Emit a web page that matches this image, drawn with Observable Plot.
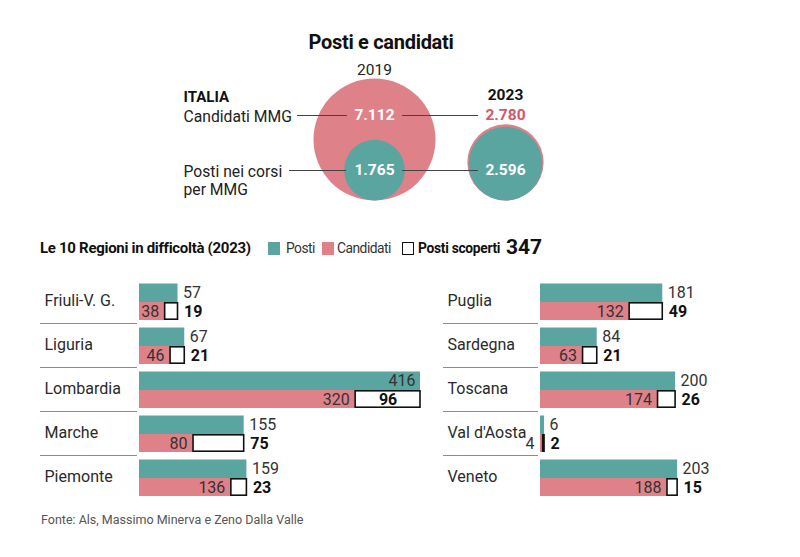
<!DOCTYPE html>
<html><head><meta charset="utf-8">
<script src="https://cdn.jsdelivr.net/npm/d3@7"></script>
<script src="https://cdn.jsdelivr.net/npm/@observablehq/plot@0.6"></script>
<style>
html,body{margin:0;padding:0;background:#fff;}
#root{position:relative;width:800px;height:557px;overflow:hidden;background:#fff;font-family:Roboto,"Noto Sans",sans-serif;color:#222}
.abs{position:absolute}
#title{left:0;width:762px;top:29px;text-align:center;font-size:20px;font-weight:700;color:#111;line-height:26px;letter-spacing:-0.3px}
#legend{left:40px;top:237px;width:600px;height:22px;white-space:nowrap;font-size:13.8px;color:#333}
#legend span{position:absolute;top:0;line-height:22px}
#legend .lab{letter-spacing:-0.5px}
#legend .lt{font-weight:700;color:#111;font-size:15px;letter-spacing:-0.3px}
#legend .sw{display:inline-block;width:12px;height:13px;top:5px}
#legend .b{font-weight:700;color:#111;letter-spacing:-0.3px}
#legend .big{font-weight:700;color:#111;font-size:21px;top:-1px}
#caption{left:41px;top:512px;font-size:12.5px;color:#555;line-height:16px}
svg{position:absolute}
</style></head>
<body><div id="root">
<div id="title" class="abs"></div>
<div id="topArea" class="abs" style="left:0;top:0;width:800px;height:215px"></div>
<div id="legend" class="abs"></div>
<div id="panels" class="abs" style="left:0;top:275px;width:800px;height:230px"></div>
<div id="caption" class="abs"></div>
</div>
<script>
// ---- data ----
const titolo = "Posti e candidati";
const years = [2019, 2023];
const candidatiItalia = [7112, 2780];
const postiItalia = [1765, 2596];
const misure = ["Candidati", "Posti"];
const misureLabel = ["Candidati MMG", "Posti nei corsi\nper MMG"];
const areaLabel = "ITALIA";

const legendTitle = "Le 10 Regioni in difficoltà (2023)";
const legendLabels = ["Posti", "Candidati", "Posti scoperti"];
const totaleScoperti = 347;

const regioniSx = ["Friuli-V. G.", "Liguria", "Lombardia", "Marche", "Piemonte"];
const postiSx = [57, 67, 416, 155, 159];
const candidatiSx = [38, 46, 320, 80, 136];
const scopertiSx = [19, 21, 96, 75, 23];

const regioniDx = ["Puglia", "Sardegna", "Toscana", "Val d'Aosta", "Veneto"];
const postiDx = [181, 84, 200, 6, 203];
const candidatiDx = [132, 63, 174, 4, 188];
const scopertiDx = [49, 21, 26, 2, 15];

const fonte = "Fonte: Als, Massimo Minerva e Zeno Dalla Valle";

// ---- style ----
const TEAL = "#5ba5a1", PINK = "#df8189", PINK_TXT = "#d4566a", INK = "#222", GRID = "#8c8c8c";
const FONT = "Roboto, 'Noto Sans', sans-serif";
const itFmt = d3.formatLocale({decimal: ",", thousands: ".", grouping: [3], currency: ["", "€"]}).format(",d");

document.getElementById("title").textContent = titolo;
document.getElementById("caption").textContent = fonte;

// ---- top: bubbles ----
const circles = years.flatMap((y, i) => [
  {year: y, misura: "Candidati", value: candidatiItalia[i]},
  {year: y, misura: "Posti", value: postiItalia[i]}
]);
const maxV = d3.max(circles, d => d.value);
const xTop = {type: "linear", domain: [years[0], years[1]], range: [374, 505], axis: null};

const bubbles = Plot.plot({
  width: 800, height: 215, margin: 0,
  style: {background: "transparent", fontFamily: FONT, overflow: "visible"},
  x: xTop,
  y: {type: "sqrt", domain: [0, maxV], range: [200, 139], axis: null},
  r: {type: "sqrt", domain: [0, maxV], range: [0, 61]},
  marks: [
    Plot.dot(circles.filter(d => d.misura === "Candidati"), {x: "year", y: "value", r: "value", fill: PINK}),
    Plot.dot(circles.filter(d => d.misura === "Posti"), {x: "year", y: "value", r: "value", fill: TEAL})
  ]
});

const rowLabels = misure.map((m, i) => ({misura: m, label: misureLabel[i]}));
const rowsPlot = Plot.plot({
  width: 800, height: 215, marginLeft: 183, marginTop: 0, marginBottom: 0, marginRight: 0,
  style: {background: "transparent", fontFamily: FONT, overflow: "visible"},
  x: xTop,
  y: {type: "point", domain: misure, range: [115, 170], padding: 0, axis: null},
  marks: [
    Plot.ruleY(["Candidati"], {y: d => d, x1: years[0], x2: years[0], insetLeft: -77, insetRight: 27, stroke: "#444", strokeWidth: 1}),
    Plot.ruleY(["Posti"], {y: d => d, x1: years[0], x2: years[0], insetLeft: -85, insetRight: 28, stroke: "#444", strokeWidth: 1}),
    Plot.ruleY(misure, {y: d => d, x1: years[0], x2: years[1], insetLeft: 28, insetRight: 27, stroke: "#444", strokeWidth: 1}),
    Plot.text(rowLabels, {y: "misura", text: "label", frameAnchor: "left", textAnchor: "start", lineAnchor: "top", dy: -6, lineHeight: 1.12, fontSize: 15.7, fill: INK}),
    Plot.text([areaLabel], {y: () => misure[0], text: d => d, frameAnchor: "left", textAnchor: "start", dy: -18, fontSize: 15, fontWeight: 700, fill: "#111"}),
    Plot.text([years[0]], {x: d => d, y: () => misure[0], text: d => String(d), dy: -45, fontSize: 15.5, fill: INK}),
    Plot.text([years[1]], {x: d => d, y: () => misure[0], text: d => String(d), dy: -20, fontSize: 15.5, fontWeight: 700, fill: "#111"}),
    Plot.text(circles.filter(d => !(d.year === years[1] && d.misura === "Candidati")), {x: "year", y: "misura", text: d => itFmt(d.value), fontSize: 15.5, fontWeight: 700, fill: "white"}),
    Plot.text(circles.filter(d => d.year === years[1] && d.misura === "Candidati"), {x: "year", y: "misura", text: d => itFmt(d.value), fontSize: 15.5, fontWeight: 700, fill: PINK_TXT})
  ]
});
document.getElementById("topArea").append(bubbles, rowsPlot);

// ---- legend ----
const legend = document.getElementById("legend");
const legendItems = [
  {cls: "lt", text: legendTitle, left: 0},
  {cls: "sw", color: TEAL, left: 228},
  {cls: "lab", text: legendLabels[0], left: 246},
  {cls: "sw", color: PINK, left: 282},
  {cls: "lab", text: legendLabels[1], left: 297},
  {cls: "sw", color: "#fff", border: true, left: 362},
  {cls: "b", text: legendLabels[2], left: 378},
  {cls: "big", text: String(totaleScoperti), left: 466}
];
for (const it of legendItems) {
  const s = document.createElement("span");
  s.className = it.cls;
  s.style.left = it.left + "px";
  if (it.text) s.textContent = it.text;
  if (it.color) s.style.background = it.color;
  if (it.border) { s.style.border = "1.5px solid #111"; s.style.boxSizing = "border-box"; }
  legend.append(s);
}

// ---- panels ----
const maxP = d3.max(postiSx.concat(postiDx));
function panel(regioni, posti, candidati, scoperti, o) {
  const data = regioni.map((r, i) => ({regione: r, posti: posti[i], candidati: candidati[i], scoperti: scoperti[i]}));
  const inside = d => d.posti === maxP;
  return Plot.plot({
    width: o.width, height: 229, marginTop: 4, marginBottom: 5, marginLeft: o.left, marginRight: 0,
    style: {background: "transparent", fontFamily: FONT, overflow: "visible"},
    x: {domain: [0, maxP], range: [o.barStart, o.barStart + 281], axis: null},
    y: {domain: regioni, padding: 0, axis: null},
    marks: [
      Plot.ruleY(regioni.slice(1), {y: d => d, dy: -22, insetRight: o.width - (o.barStart - 2), stroke: GRID, strokeWidth: 1}),
      Plot.text(data, {y: "regione", text: "regione", frameAnchor: "left", textAnchor: "start", dx: 4, dy: -1, fontSize: 16, fill: "#2a2a2a"}),
      Plot.barX(data, {y: "regione", x1: 0, x2: "posti", fill: TEAL, insetTop: 4.5, insetBottom: 21}),
      Plot.barX(data, {y: "regione", x1: 0, x2: "candidati", fill: PINK, insetTop: 23, insetBottom: 3}),
      Plot.barX(data, {y: "regione", x1: "candidati", x2: d => d.candidati + d.scoperti, fill: "white", stroke: "#111", strokeWidth: 1.6, insetTop: 23.8, insetBottom: 3.8}),
      Plot.text(data.filter(d => !inside(d)), {y: "regione", x: "posti", text: "posti", textAnchor: "start", dx: 5, dy: -8.5, fontSize: 16, fill: "#333"}),
      Plot.text(data.filter(inside), {y: "regione", x: "posti", text: "posti", textAnchor: "end", dx: -5, dy: -8.5, fontSize: 16, fill: "#333"}),
      Plot.text(data, {y: "regione", x: d => d.candidati >= 20 ? d.candidati : 0, text: "candidati", textAnchor: "end", dx: -6, dy: 10, fontSize: 16, fill: "#333"}),
      Plot.text(data.filter(d => !inside(d)), {y: "regione", x: d => d.candidati + d.scoperti, text: "scoperti", textAnchor: "start", dx: 6, dy: 10, fontSize: 16, fontWeight: 700, fill: "#111"}),
      Plot.text(data.filter(inside), {y: "regione", x: d => d.candidati + d.scoperti / 2, text: "scoperti", textAnchor: "middle", dy: 10, fontSize: 16, fontWeight: 700, fill: "#111"})
    ]
  });
}
const leftP = panel(regioniSx, postiSx, candidatiSx, scopertiSx, {width: 430, left: 40, barStart: 139});
const rightP = panel(regioniDx, postiDx, candidatiDx, scopertiDx, {width: 370, left: 13, barStart: 110});
rightP.style.left = "430px";
leftP.style.left = "0px";
document.getElementById("panels").append(leftP, rightP);
</script>
</body></html>
